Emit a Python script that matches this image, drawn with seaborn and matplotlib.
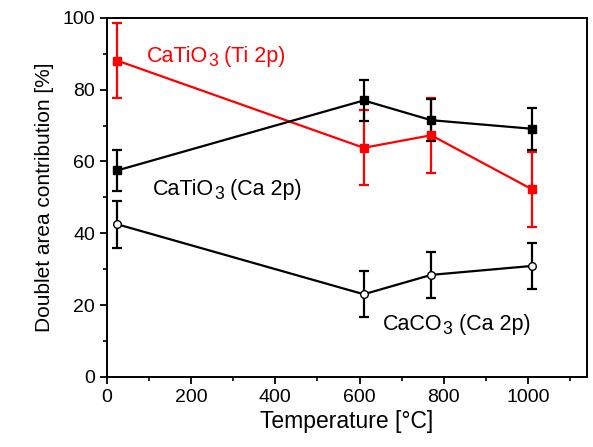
import matplotlib
matplotlib.use("Agg")
import matplotlib.pyplot as plt
from matplotlib.ticker import MultipleLocator
from matplotlib.transforms import offset_copy
import seaborn as sns
import pandas as pd

# Annealing temperatures (°C)
temperature = [25, 610, 770, 1010]

# Doublet area contributions (%) and their uncertainties
ti2p_catio3 = [88.1, 63.8, 67.3, 52.2]
ti2p_catio3_err = [10.4, 10.4, 10.4, 10.4]
ca2p_catio3 = [57.5, 77.0, 71.5, 69.1]
ca2p_catio3_err = [5.8, 5.8, 5.8, 5.8]
ca2p_caco3 = [42.5, 23.0, 28.4, 30.9]
ca2p_caco3_err = [6.5, 6.4, 6.4, 6.4]

series_names = ["CaTiO3 (Ti 2p)", "CaTiO3 (Ca 2p)", "CaCO3 (Ca 2p)"]
# label pieces: formula head, subscript, trailing text
label_parts = [("CaTiO", "3", " (Ti 2p)"),
               ("CaTiO", "3", " (Ca 2p)"),
               ("CaCO", "3", " (Ca 2p)")]

sns.set_style("ticks", {"axes.edgecolor": "black", "text.color": "black",
                        "axes.labelcolor": "black", "xtick.color": "black",
                        "ytick.color": "black"})
plt.rcParams["font.family"] = ["Liberation Sans", "DejaVu Sans"]

fig = plt.figure(figsize=(5.93, 4.47), dpi=100)
ax = fig.add_axes([0.180, 0.157, 0.810, 0.803])

df = pd.DataFrame({
    "T": temperature * 3,
    "value": ti2p_catio3 + ca2p_catio3 + ca2p_caco3,
    "err": ti2p_catio3_err + ca2p_catio3_err + ca2p_caco3_err,
    "series": [s for s in series_names for _ in temperature],
})

styles = {
    series_names[0]: dict(color="#ff0000", marker="s", mfc="#ff0000"),
    series_names[1]: dict(color="black", marker="s", mfc="black"),
    series_names[2]: dict(color="black", marker="o", mfc="white"),
}

for name, sub in df.groupby("series", sort=False):
    st = styles[name]
    ax.errorbar(sub["T"], sub["value"], yerr=sub["err"], fmt="none",
                ecolor=st["color"], elinewidth=1.6, capsize=3.5, capthick=1.6,
                zorder=2)
    sns.lineplot(data=sub, x="T", y="value", ax=ax, color=st["color"],
                 linewidth=1.6, marker=st["marker"], markersize=5.5,
                 markerfacecolor=st["mfc"], markeredgecolor=st["color"],
                 markeredgewidth=1.0, legend=False, zorder=3)

ax.set_xlim(0, 1140)
ax.set_ylim(0, 100)


def chem_label(x, y, parts, color, size=15.5):
    """Write a chemical label with a lowered, slightly smaller subscript."""
    renderer = fig.canvas.get_renderer()
    head, sub, tail = parts
    t1 = ax.text(x, y, head, fontsize=size, color=color, va="baseline")
    w1 = t1.get_window_extent(renderer).width
    t2 = ax.text(x, y, sub, fontsize=size * 0.82, color=color, va="baseline",
                 transform=offset_copy(ax.transData, fig=fig, x=w1 + 0.1,
                                       y=-4.5, units="dots"))
    w2 = t2.get_window_extent(renderer).width
    ax.text(x, y, tail, fontsize=size, color=color, va="baseline",
            transform=offset_copy(ax.transData, fig=fig, x=w1 + w2 + 0.2,
                                  y=0, units="dots"))


chem_label(95, 87.8, label_parts[0], "#ff0000")
chem_label(109, 50.7, label_parts[1], "black")
chem_label(656, 13.1, label_parts[2], "black")

ax.xaxis.set_major_locator(MultipleLocator(200))
ax.xaxis.set_minor_locator(MultipleLocator(100))
ax.yaxis.set_major_locator(MultipleLocator(20))
ax.yaxis.set_minor_locator(MultipleLocator(10))
ax.tick_params(which="major", direction="out", length=5, width=1.3,
               labelsize=14, top=False, right=False, colors="black")
ax.tick_params(which="minor", direction="out", length=3, width=1.2,
               top=False, right=False, colors="black")
for sp in ax.spines.values():
    sp.set_linewidth(1.4)
    sp.set_color("black")
    sp.set_visible(True)

ax.set_xlabel("Temperature [°C]", fontsize=16.5, labelpad=3, color="black")
ax.set_ylabel("Doublet area contribution [%]", fontsize=15, labelpad=6,
              color="black")

fig.savefig("out.png", dpi=100)
